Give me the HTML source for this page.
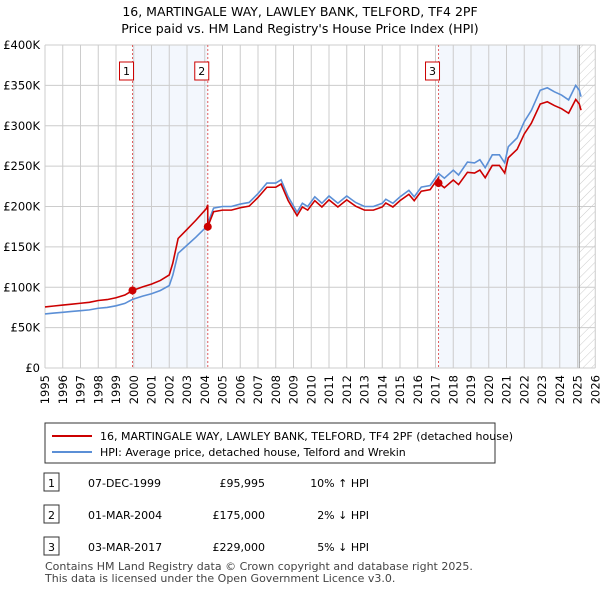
<!DOCTYPE html>
<html><head><meta charset="utf-8"><style>
body{margin:0;background:#fff;font-family:"Liberation Sans","DejaVu Sans",sans-serif;color:#222}
svg text{font-family:"DejaVu Sans","Liberation Sans",sans-serif}
</style></head><body>
<svg id="c" width="600" height="590" viewBox="0 0 600 590">
<text x="300" y="16" text-anchor="middle" font-size="12.5">16, MARTINGALE WAY, LAWLEY BANK, TELFORD, TF4 2PF</text>
<text x="300" y="33" text-anchor="middle" font-size="12.5">Price paid vs. HM Land Registry's House Price Index (HPI)</text>
<g id="plot"></g>
<rect x="45" y="423" width="450" height="40" fill="#fff" stroke="#333"/>
<line x1="52" y1="436" x2="92" y2="436" stroke="#cc0000" stroke-width="2"/>
<text x="100" y="440" font-size="11">16, MARTINGALE WAY, LAWLEY BANK, TELFORD, TF4 2PF (detached house)</text>
<line x1="52" y1="452" x2="92" y2="452" stroke="#5b8fd6" stroke-width="2"/>
<text x="100" y="456" font-size="11">HPI: Average price, detached house, Telford and Wrekin</text>
<g id="tbl"></g>
<text x="45" y="570" font-size="11" fill="#444">Contains HM Land Registry data © Crown copyright and database right 2025.</text>
<text x="45" y="582" font-size="11" fill="#444">This data is licensed under the Open Government Licence v3.0.</text>
</svg>
<script>
const hpiYears=[1995,1995.5,1996,1996.5,1997,1997.5,1998,1998.5,1999,1999.5,1999.93,2000.5,2001,2001.5,2002,2002.2,2002.5,2003,2003.5,2004.1,2004.5,2005,2005.5,2006,2006.5,2007,2007.5,2008,2008.3,2008.7,2009.2,2009.5,2009.8,2010.2,2010.6,2011,2011.5,2012,2012.5,2013,2013.5,2014,2014.2,2014.6,2015,2015.5,2015.8,2016.2,2016.7,2017.17,2017.5,2018,2018.3,2018.8,2019.2,2019.5,2019.8,2020.2,2020.6,2020.9,2021.1,2021.6,2022,2022.4,2022.9,2023.3,2023.7,2024.1,2024.5,2024.9,2025.1,2025.2];
const hpiValues=[67,68,69,70,71,72,74,75,77,80,85,89,92,96,102,115,142,152,162,175,198,200,200,203,205,216,229,229,233,212,193,204,200,212,204,213,204,213,205,200,200,204,209,204,212,220,212,224,226,241,235,245,239,255,254,258,248,264,264,254,274,285,305,319,344,347,342,338,332,350,344,336];
const saleYears=[1999.93,2004.17,2017.17];
const salePrices=[95.995,175,229];
const saleLabels=["1","2","3"];
const saleDates=["07-DEC-1999","01-MAR-2004","03-MAR-2017"];
const salePriceText=["£95,995","£175,000","£229,000"];
const saleHpiText=["10% ↑ HPI","2% ↓ HPI","5% ↓ HPI"];
const yTicks=[0,50,100,150,200,250,300,350,400];
const yTickLabels=["£0","£50K","£100K","£150K","£200K","£250K","£300K","£350K","£400K"];
const xTicks=[];for(let y=1995;y<=2026;y++)xTicks.push(y);

const NS="http://www.w3.org/2000/svg";
const X=y=>45+(y-1995)*17.75;
const Y=v=>368-v*0.8075;
const g=document.getElementById('plot');
function mk(t,a,p){const e=document.createElementNS(NS,t);for(const k in a)e.setAttribute(k,a[k]);(p||g).appendChild(e);return e;}
function hpiAt(y){for(let i=1;i<hpiYears.length;i++){if(y<=hpiYears[i]){const t=(y-hpiYears[i-1])/(hpiYears[i]-hpiYears[i-1]);return hpiValues[i-1]+t*(hpiValues[i]-hpiValues[i-1]);}}return hpiValues[hpiValues.length-1];}
const defs=mk('defs',{});
const pat=mk('pattern',{id:'h',width:6,height:6,patternUnits:'userSpaceOnUse',patternTransform:'rotate(45)'},defs);
mk('line',{x1:0,y1:0,x2:0,y2:6,stroke:'#ccc','stroke-width':1},pat);
let e;
e=mk('rect',{x:X(saleYears[0]),y:45,width:X(saleYears[1])-X(saleYears[0]),height:323,fill:'#eef3fc',opacity:0.7});

e=mk('rect',{x:X(saleYears[2]),y:45,width:X(2025.1)-X(saleYears[2]),height:323,fill:'#eef3fc',opacity:0.7});

e=mk('rect',{x:X(2025.1),y:45,width:X(2026)-X(2025.1),height:323,fill:'url(#h)'});

xTicks.forEach((t,i)=>{const l=mk('line',{x1:X(t),y1:45,x2:X(t),y2:368,stroke:'#ccc'});

const tx=mk('text',{x:0,y:0,'text-anchor':'end','font-size':11.5,transform:'translate('+(X(t)+4)+',375) rotate(-90)'});tx.textContent=t;
});
yTicks.forEach((t,i)=>{const l=mk('line',{x1:45,y1:Y(t),x2:X(2026),y2:Y(t),stroke:'#ccc'});

const tx=mk('text',{x:40,y:Y(t)+4,'text-anchor':'end','font-size':11.5});tx.textContent=yTickLabels[i];
});
e=mk('line',{x1:X(2025.1),y1:45,x2:X(2025.1),y2:368,stroke:'#999'});

saleYears.forEach((s,i)=>{const l=mk('line',{x1:X(s),y1:45,x2:X(s),y2:368,stroke:'#e06060','stroke-dasharray':'2,2'});

const r=mk('rect',{x:X(s)-13,y:62,width:14,height:18,fill:'#fff',stroke:'#cc0000'});

const t=mk('text',{x:X(s)-6,y:75,'text-anchor':'middle','font-size':11});t.textContent=saleLabels[i];
});
e=mk('polyline',{points:hpiYears.map((y,i)=>X(y)+','+Y(hpiValues[i])).join(' '),fill:'none',stroke:'#5b8fd6','stroke-width':1.6});

const f=saleYears.map((s,i)=>salePrices[i]/hpiAt(s));
const pts=[];
hpiYears.forEach((y,i)=>{let k=0;for(let j=0;j<saleYears.length;j++)if(y>=saleYears[j])k=j;
pts.push([y,hpiValues[i]*f[k]]);});
saleYears.forEach((s,j)=>{if(j>0)pts.push([s-0.001,hpiAt(s)*f[j-1]]);pts.push([s,salePrices[j]]);});
pts.sort((a,b)=>a[0]-b[0]);
e=mk('polyline',{points:pts.map(p=>X(p[0])+','+Y(p[1])).join(' '),fill:'none',stroke:'#cc0000','stroke-width':1.6});

saleYears.forEach((s,i)=>{const c=mk('circle',{cx:X(s),cy:Y(salePrices[i]),r:4,fill:'#cc0000'});
});
const tb=document.getElementById('tbl');
const rowsY=[486,518,550];
saleYears.forEach((s,i)=>{const y=rowsY[i];
const r=mk('rect',{x:44,y:y-13,width:15,height:18,fill:'#fff',stroke:'#333'},tb);

const cells=[[51.5,saleLabels[i],'middle'],[88,saleDates[i],'start'],[265,salePriceText[i],'end'],[369,saleHpiText[i],'end']];
cells.forEach(c=>{const t=mk('text',{x:c[0],y:y+1,'text-anchor':c[2],'font-size':11},tb);t.textContent=c[1];
});});
</script>
</body></html>
